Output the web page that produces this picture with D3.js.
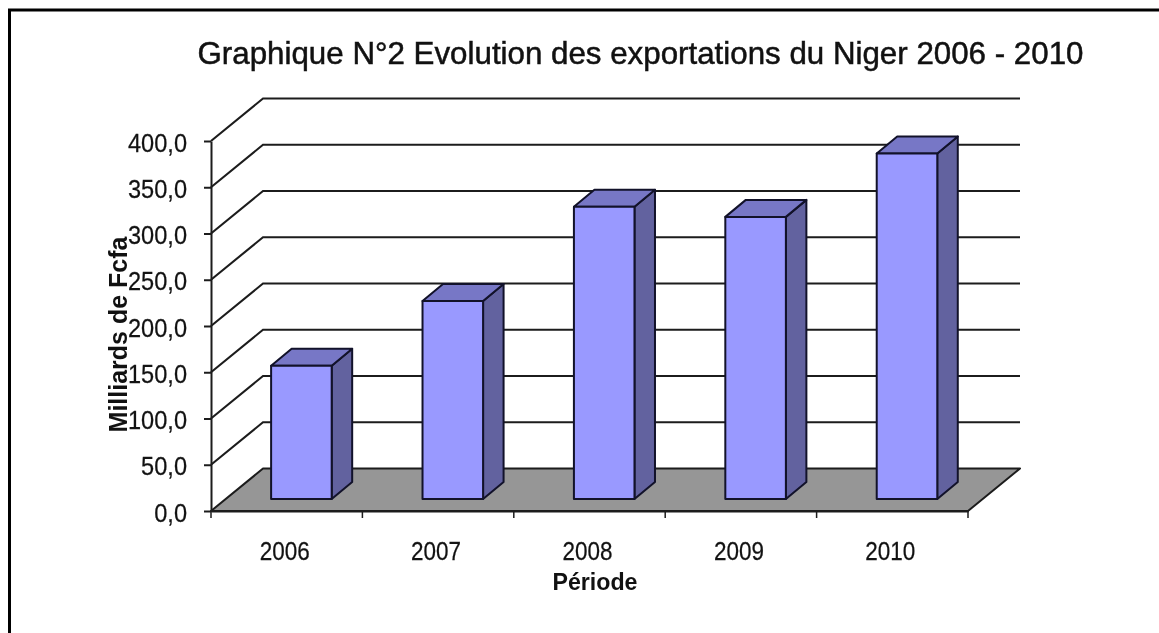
<!DOCTYPE html>
<html><head><meta charset="utf-8">
<script src="https://cdn.jsdelivr.net/npm/d3@7"></script>
<style>html,body{margin:0;padding:0;background:#fff}svg{display:block;filter:blur(0.45px)}text{font-family:"Liberation Sans",Arial,sans-serif;fill:#111}</style>
</head><body><svg id="c" width="1159" height="633"></svg>
<script>
const titleText = "Graphique N°2 Evolution des exportations du Niger 2006 - 2010";
const yTitle = "Milliards de Fcfa";
const xTitle = "Période";
const years = ["2006","2007","2008","2009","2010"];
const exportsValues = [144, 214, 316, 305, 373.5];
const yTicks = [0,50,100,150,200,250,300,350,400];

const svg = d3.select("#c");
const W = 1159, H = 633;
const x0 = 211, x1 = 968, yB = 511, yT = 141;
const depthX = 52, depthY = 42.5;
const x = d3.scaleBand().domain(years).range([x0, x1]).paddingInner(0).paddingOuter(0);
const y = d3.scaleLinear().domain([0, 400]).range([yB, yT]);
const fmt = d => d3.format(".1f")(d).replace(".", ",");
const dark = "#1c1c1c";

// outer frame
svg.append("path").attr("d", d3.line()([[9.5,H],[9.5,10],[W,10]]))
  .attr("fill","none").attr("stroke","#000").attr("stroke-width",3);

const poly = (g, pts, fill, sw=2, stroke="#12122a") => g.append("path")
  .attr("d", d3.line()(pts)+"Z").attr("fill",fill).attr("stroke",stroke)
  .attr("stroke-width",sw).attr("stroke-linejoin","round");

// floor
poly(svg, [[x0,yB],[x1,yB],[x1+depthX,yB-depthY],[x0+depthX,yB-depthY]], "#969696", 2, dark);

// gridlines on side and back wall
yTicks.filter(t => t>0).forEach(t => {
  svg.append("path").attr("d", d3.line()([[x0,y(t)],[x0+depthX,y(t)-depthY],[x1+depthX,y(t)-depthY]]))
    .attr("fill","none").attr("stroke",dark).attr("stroke-width",2.1);
});

// axes
const stretch = 1.12;
const axL = svg.append("g").attr("transform",`translate(${x0},0)`)
  .call(d3.axisLeft(y).tickValues(yTicks).tickFormat(fmt).tickSize(7).tickPadding(17).tickSizeOuter(0));
const axB = svg.append("g").attr("transform",`translate(0,${yB})`)
  .call(d3.axisBottom(x).tickSize(0).tickPadding(0).tickSizeOuter(0));
[axL,axB].forEach(a => { a.selectAll("path,line").attr("stroke",dark).attr("stroke-width",2);
  a.selectAll("text").style("font-family",'"Liberation Sans",Arial,sans-serif').style("font-size","23.6px")
   .attr("fill","#222").attr("stroke","#222").attr("stroke-width",0.25); });
axL.selectAll("text").attr("dy","0.38em").attr("transform",`scale(1,${stretch})`);
axB.selectAll("text").style("font-size","22.5px").attr("dx",-2).attr("y",0).attr("dy",0)
  .attr("transform",`translate(0,48.5) scale(1,${stretch})`);
axB.selectAll(".band").data(years.concat(["end"])).enter().append("line").attr("class","band")
  .attr("x1",(d,i)=>x0+i*x.bandwidth()).attr("x2",(d,i)=>x0+i*x.bandwidth())
  .attr("y1",0).attr("y2",7).attr("stroke",dark).attr("stroke-width",1.5);

// bars
const barW = x.bandwidth()*0.4;
const offX = 14.7, offY = 12, dX = 20.5, dY = 17;
const scale = v => y(v) - offY;
years.forEach((yr,i) => {
  const cx = x(yr) + x.bandwidth()/2 + offX;
  const l = cx - barW/2, r = cx + barW/2, top = scale(exportsValues[i]), bot = scale(0);
  const g = svg.append("g");
  poly(g, [[r,top],[r+dX,top-dY],[r+dX,bot-dY],[r,bot]], "#62629f");
  poly(g, [[l,top],[l+dX,top-dY],[r+dX,top-dY],[r,top]], "#7777c6");
  poly(g, [[l,top],[r,top],[r,bot],[l,bot]], "#9999ff");
});

// titles
svg.append("text").attr("x",640.5).attr("y",63.5).attr("text-anchor","middle")
  .attr("stroke","#111").attr("stroke-width",0.5)
  .style("font-size","31.3px").text(titleText);
svg.append("text").attr("x",595).attr("y",590).attr("text-anchor","middle")
  .style("font-size","23.2px").style("font-weight","bold").text(xTitle);
svg.append("text").attr("transform","translate(126.5,334.5) rotate(-90)").attr("text-anchor","middle")
  .style("font-size","25px").style("font-weight","bold").text(yTitle);
</script></body></html>
